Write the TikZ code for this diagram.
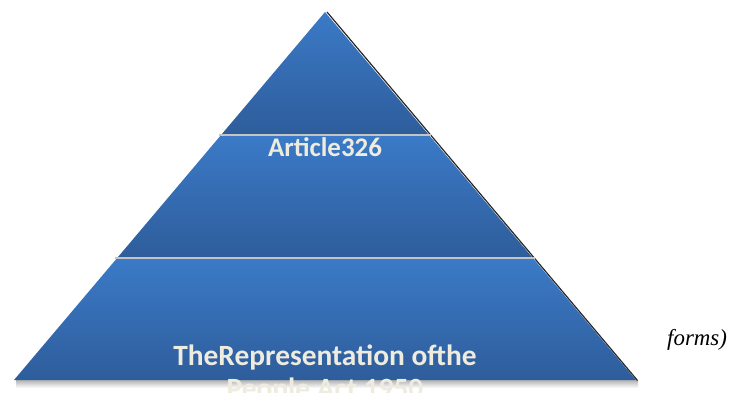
\documentclass[tikz,border=0pt]{standalone}
\usepackage{fontspec}
\setmainfont{Liberation Serif}
\newfontfamily\carlito{Carlito}
\definecolor{tiertop}{HTML}{3B7AC7}
\definecolor{tierbot}{HTML}{2E5D9B}
\definecolor{cream}{HTML}{EEEBDF}
\definecolor{sepgray}{HTML}{C4C4C4}
\tikzset{
  tier/.style={top color=tiertop, bottom color=tierbot, draw=none},
  sepline/.style={draw=sepgray, line width=1.6bp},
  tierlabel/.style={text=cream, font=\carlito\bfseries\fontsize{28}{33}\selectfont, inner sep=0pt, anchor=base},
}
\begin{document}
\begin{tikzpicture}[x=1bp,y=-1bp]
\useasboundingbox (0,0) rectangle (732,392);
% shadows
\shade[top color=black!30, bottom color=white] (16,380) rectangle (638,388);
\draw[black!85, line width=1.2bp] (327,12) -- (637.5,380.5);
% tiers
\path[tier] (325,12) -- (428.1,134) -- (221.9,134) -- cycle;
\path[tier] (220.2,136) -- (429.8,136) -- (532,257) -- (118,257) -- cycle;
\path[tier] (116.3,259) -- (533.7,259) -- (636,380) -- (14,380) -- cycle;
% separators
\coordinate (s1l) at (219,135); \coordinate (s1r) at (431,135);
\coordinate (s2l) at (115,258); \coordinate (s2r) at (535,258);
\draw[sepline] (s1l) -- (s1r);
\draw[sepline] (s2l) -- (s2r);
% labels
\node[tierlabel, font=\carlito\bfseries\fontsize{27}{33}\selectfont] (art) at (325,156) {Article326};
\node[tierlabel, font=\carlito\bfseries\fontsize{29.5}{33}\selectfont] (rep) at (325,365) {TheRepresentation ofthe};
\node[tierlabel, font=\carlito\bfseries\fontsize{29.5}{33}\selectfont] (ppl) at (325,398) {People Act 1950};
\node[inner sep=0pt, anchor=base west, font=\itshape\fontsize{23}{27}\selectfont] (forms) at (667,345) {forms)};
\end{tikzpicture}
\end{document}
